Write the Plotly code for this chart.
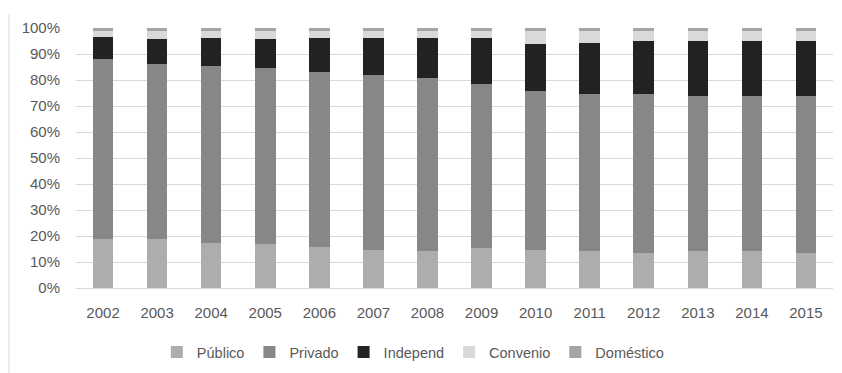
import plotly.graph_objects as go

years = ["2002", "2003", "2004", "2005", "2006", "2007", "2008",
         "2009", "2010", "2011", "2012", "2013", "2014", "2015"]
publico = [18.8, 18.8, 17.5, 16.9, 15.9, 14.7, 14.2, 15.4, 14.7, 14.2, 13.6, 14.2, 14.2, 13.6]
privado = [69.4, 67.2, 67.9, 67.8, 67.3, 67.4, 66.7, 63.2, 61.2, 60.4, 61.0, 59.8, 59.8, 60.4]
independ = [8.5, 9.6, 10.8, 10.9, 12.9, 14.0, 15.2, 17.5, 18.0, 19.8, 20.3, 20.9, 20.9, 20.9]
convenio = [2.3, 3.4, 2.8, 3.4, 2.9, 2.9, 2.9, 2.9, 5.1, 4.6, 4.1, 4.1, 4.1, 4.1]
domestico = [1.0] * 14

series = [
    ("Público", publico, "#ADADAD"),
    ("Privado", privado, "#878787"),
    ("Independ", independ, "#222222"),
    ("Convenio", convenio, "#D9D9D9"),
    ("Doméstico", domestico, "#A5A5A5"),
]

fig = go.Figure()
for name, vals, color in series:
    fig.add_trace(go.Bar(x=years, y=vals, name=name, marker=dict(color=color, line=dict(width=0))))

font = dict(family="Liberation Sans, Arial, sans-serif", size=15, color="#595959")
legfont = dict(family="Liberation Sans, Arial, sans-serif", size=14.5, color="#595959")

fig.update_layout(
    barmode="stack",
    bargap=0.62,
    width=842, height=373,
    margin=dict(l=76, r=9, t=28, b=85, autoexpand=False),
    paper_bgcolor="white",
    plot_bgcolor="white",
    font=font,
    showlegend=True,
    legend=dict(orientation="h", x=0.445, xanchor="center", yref="container",
                y=0.056, yanchor="middle",
                font=legfont, traceorder="normal", itemwidth=30),
    xaxis=dict(showgrid=False, showline=False, ticks="", tickfont=font,
               ticklabelstandoff=14, automargin=False),
    yaxis=dict(range=[0, 100], dtick=10, ticksuffix="%", showgrid=True,
               gridcolor="#D9D9D9", gridwidth=1, zeroline=True, zerolinecolor="#D9D9D9",
               zerolinewidth=1, showline=False, ticks="", tickfont=font,
               ticklabelstandoff=15, automargin=False),
)

fig.add_shape(type="line", xref="paper", yref="paper",
              x0=-0.0885, x1=-0.0885, y0=-0.33, y1=1.055,
              line=dict(color="#D9D9D9", width=1))

fig.write_html("out.html")
